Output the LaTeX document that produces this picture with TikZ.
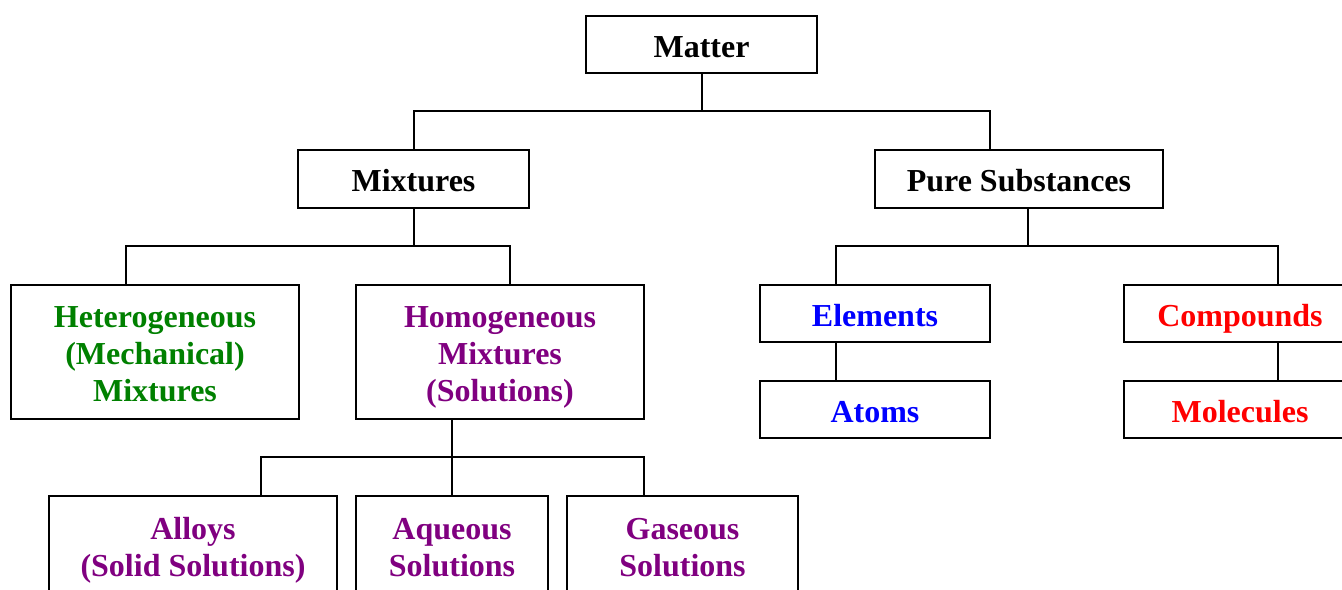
\documentclass[tikz,border=0pt]{standalone}
\usepackage{fontspec}
\setmainfont{Liberation Serif}
\definecolor{hetgreen}{RGB}{0,128,0}
\definecolor{solpurple}{RGB}{128,0,128}
\definecolor{elblue}{RGB}{0,0,255}
\definecolor{cpred}{RGB}{255,0,0}
\begin{document}
\begin{tikzpicture}[x=0.75pt,y=-0.75pt,
  box/.style 2 args={draw, line width=1.5pt, inner sep=0pt, align=center,
    minimum width=#1*0.75pt, minimum height=#2*0.75pt,
    font=\fontsize{24}{27.75}\selectfont\bfseries},
  % text block centred: lines above the last one add one baselineskip each
  lines/.style={text height=#1*27.75pt+19pt, text depth=0pt},
  link/.style={line width=1.5pt}]
\useasboundingbox (0,0) rectangle (1342,589);
\clip (0,0) rectangle (1342,589);

% boxes
\node[box={231}{57}, lines=0] (matter) at (701.5,44.5) {Matter};
\node[box={231}{58}, lines=0] (mix) at (413.5,179) {Mixtures};
\node[box={288}{58}, lines=0] (pure) at (1019,179) {Pure Substances};
\node[box={288}{134}, lines=2, text=hetgreen] (het) at (155,352) {Heterogeneous\\(Mechanical)\\Mixtures};
\node[box={288}{134}, lines=2, text=solpurple] (hom) at (500,352) {Homogeneous\\Mixtures\\(Solutions)};
\node[box={230}{57}, lines=0, text=elblue] (el) at (875,313.5) {Elements};
\node[box={230}{57}, lines=0, text=elblue] (atoms) at (875,409.5) {Atoms};
\node[box={232}{57}, lines=0, text=cpred] (comp) at (1240,313.5) {Compounds};
\node[box={232}{57}, lines=0, text=cpred] (mol) at (1240,409.5) {Molecules};
\node[box={288}{99}, lines=1, text=solpurple] (alloy) at (193,545.5) {Alloys\\(Solid Solutions)};
\node[box={192}{99}, lines=1, text=solpurple] (aq) at (452,545.5) {Aqueous\\Solutions};
\node[box={231}{99}, lines=1, text=solpurple] (gas) at (682.5,545.5) {Gaseous\\Solutions};

% junction points
\coordinate (mj) at (701.5,111);
\coordinate (pureTop) at (990,150);
\coordinate (xj) at (413.5,246);
\coordinate (hetTop) at (126,285);
\coordinate (homTop) at (510,285);
\coordinate (pureBot) at (1028,208);
\coordinate (pj) at (1028,246);
\coordinate (elTop) at (836,285);
\coordinate (compTop) at (1278,285);
\coordinate (hj) at (452,457);
\coordinate (alTop) at (261,496);
\coordinate (gasTop) at (644,496);

% connectors
\draw[link] (matter.south) -- (mj);
\draw[link] (mix.north) |- (mj) -| (pureTop);
\draw[link] (mix.south) -- (xj);
\draw[link] (hetTop) |- (xj) -| (homTop);
\draw[link] (pureBot) -- (pj);
\draw[link] (elTop) |- (pj) -| (compTop);
\draw[link] (el.south -| elTop) -- (atoms.north -| elTop);
\draw[link] (comp.south -| compTop) -- (mol.north -| compTop);
\draw[link] (hom.south -| hj) -- (hj);
\draw[link] (alTop) |- (hj) -| (gasTop);
\draw[link] (hj) -- (aq.north);
\end{tikzpicture}
\end{document}
